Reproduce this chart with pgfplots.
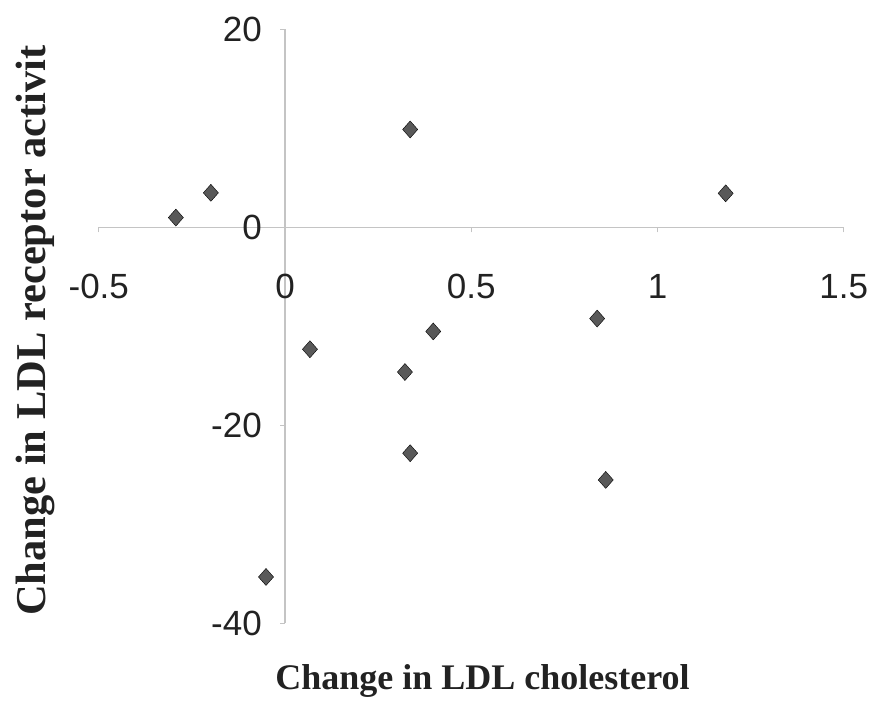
\documentclass[border=0pt]{standalone}
\usepackage{fontspec}
\setmainfont{Liberation Sans}
\newfontfamily\titlefont{Liberation Serif}
\usepackage{pgfplots}
\pgfplotsset{compat=1.18}

\definecolor{axisgray}{HTML}{C4C4C4}
\definecolor{markgray}{HTML}{595959}
\definecolor{textdark}{HTML}{222222}

\pgfplotstableread{
dchol   dact
-0.293   1.0
-0.199   3.5
 0.336   9.9
 1.183   3.45
 0.067 -12.3
 0.398 -10.5
 0.322 -14.6
 0.838  -9.2
 0.336 -22.8
 0.861 -25.5
-0.051 -35.3
}\ldldata

\begin{document}
\begin{tikzpicture}[x=1bp,y=1bp]
\useasboundingbox (0,0) rectangle (873,719);
\begin{axis}[
  at={(285bp,491.5bp)}, anchor=origin,
  x=372.5bp, y=9.9bp,
  xmin=-0.5, xmax=1.5, ymin=-40, ymax=20,
  axis lines=middle,
  axis line style={-, draw=axisgray, line width=1.2bp},
  hide obscured x ticks=false, hide obscured y ticks=false,
  xtick={-0.5,0,0.5,1,1.5}, ytick={-40,-20,0,20},
  tick align=outside, major tick length=5bp,
  tick style={draw=axisgray, line width=1bp},
  /pgf/number format/assume math mode=true,
  xticklabel style={anchor=center, inner sep=0pt, yshift=-54bp,
    font=\fontsize{35bp}{40bp}\selectfont, text=textdark},
  yticklabel style={anchor=east, inner sep=0pt, xshift=-18bp,
    font=\fontsize{35bp}{40bp}\selectfont, text=textdark},
  clip=false,
]
\addplot[only marks, mark=diamond*, mark size=8.5bp,
  mark options={draw=none, fill=markgray, xscale=1.18}]
  table[x=dchol, y=dact] {\ldldata};
\end{axis}
\node[rotate=90, anchor=base, text=textdark,
  font=\fontsize{42.5bp}{48bp}\titlefont\bfseries] at (45.5,388.5)
  {Change in LDL receptor activit};
\node[anchor=base, text=textdark,
  font=\fontsize{36bp}{41bp}\titlefont\bfseries] at (482.5,29)
  {Change in LDL cholesterol};
\end{tikzpicture}
\end{document}
